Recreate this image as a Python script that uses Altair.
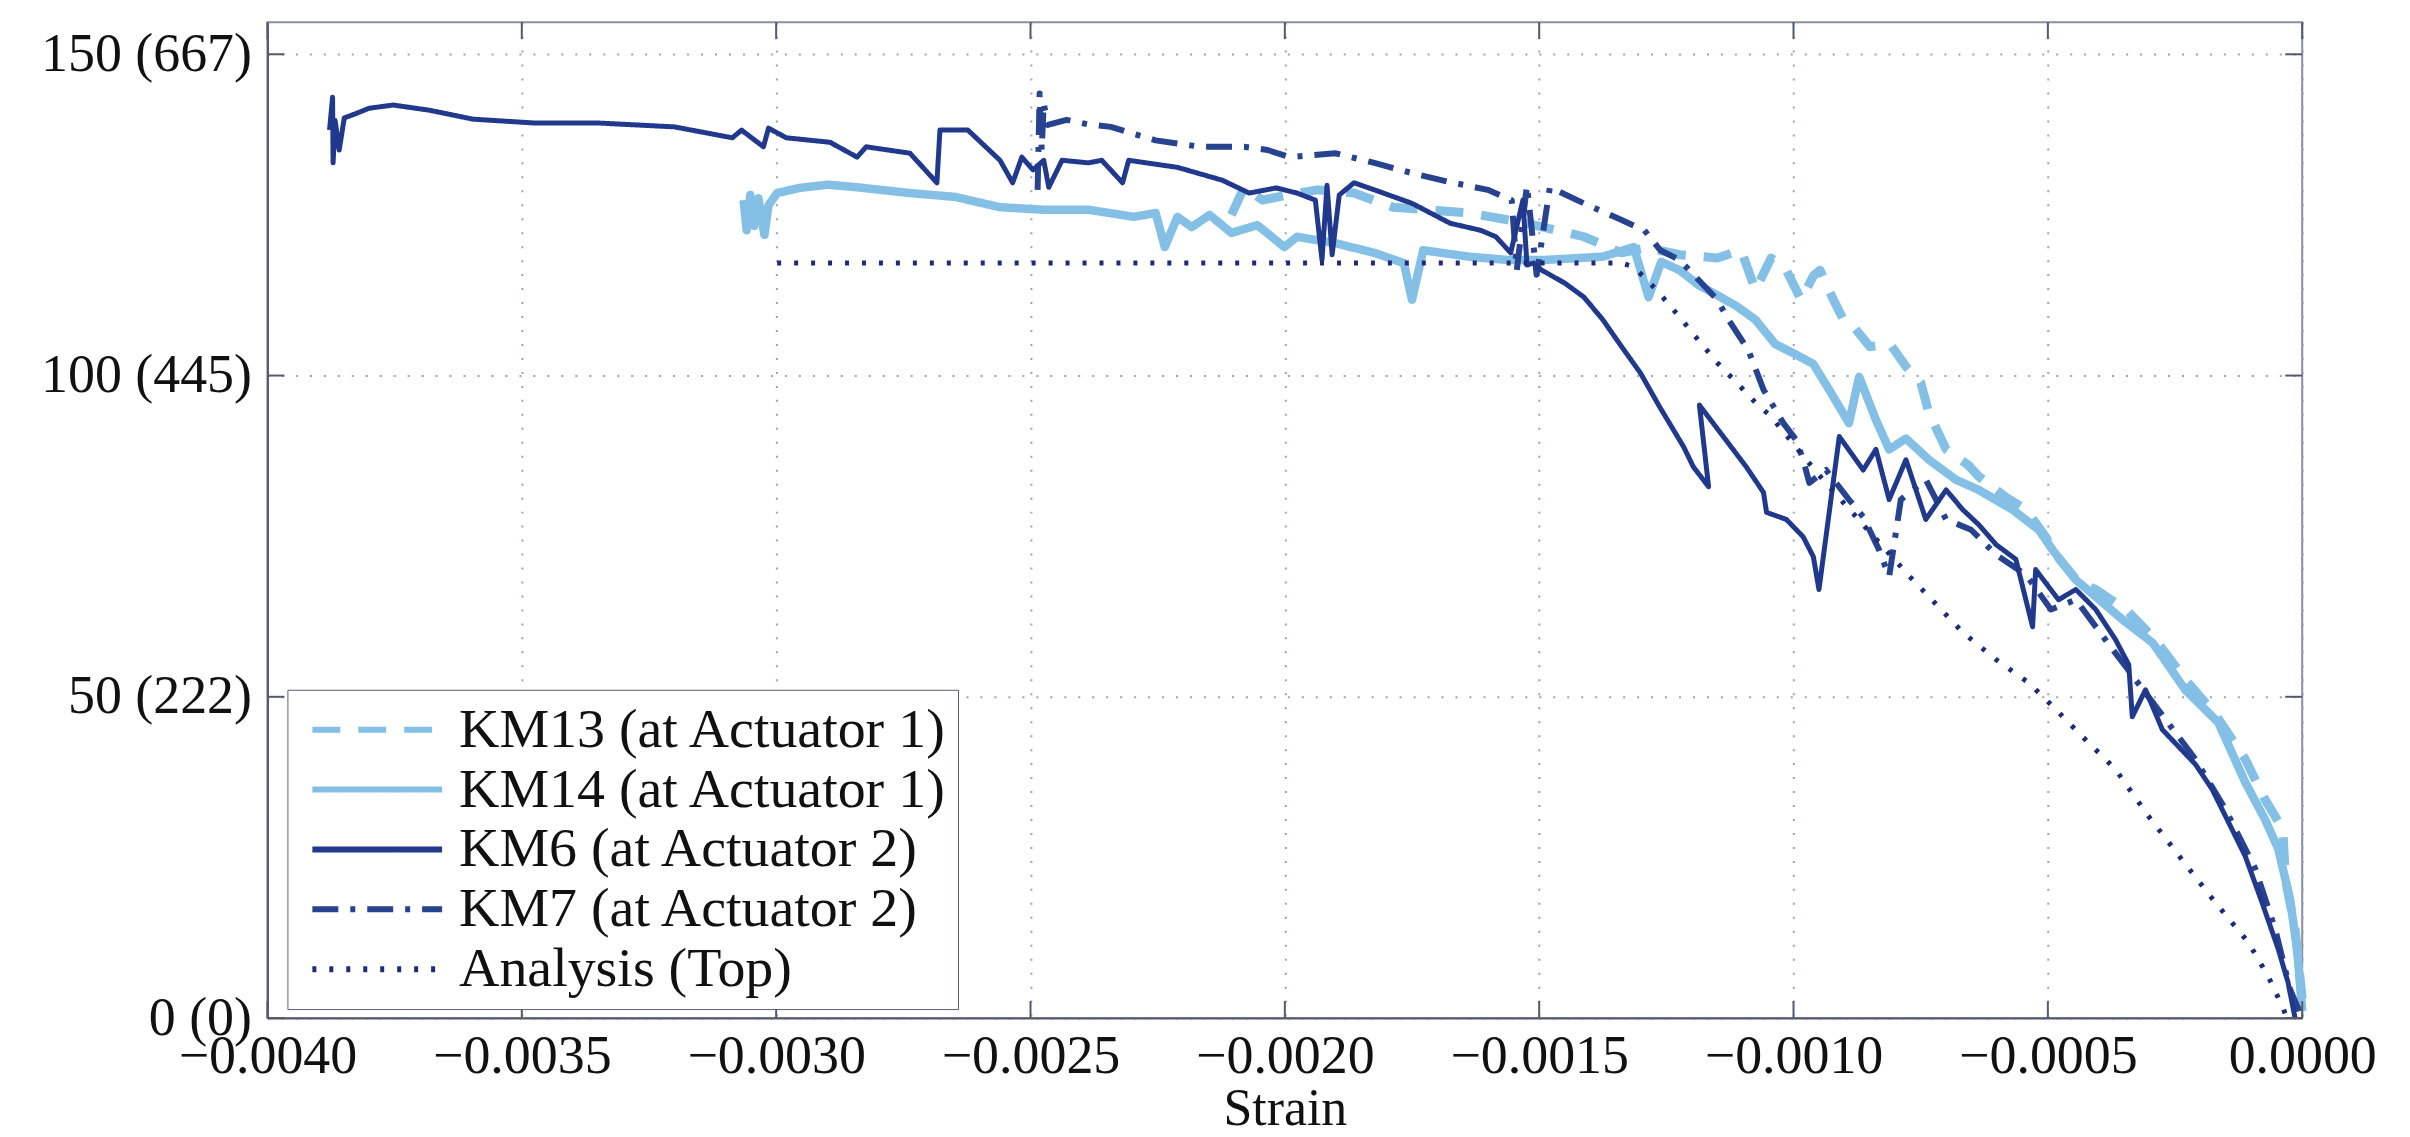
import altair as alt
import pandas as pd

# ---------------- data (strain, load in kips) ----------------
series_names = ["KM13 (at Actuator 1)", "KM14 (at Actuator 1)", "KM6 (at Actuator 2)",
                "KM7 (at Actuator 2)", "Analysis (Top)"]
series_colors = ["#84bfe6", "#84bfe6", "#21398c", "#27428f", "#1c2c78"]
series_dash = [[28, 18], [1, 0], [1, 0], [26, 12, 5, 12], [4, 13]]
series_width = [9, 8.5, 5, 6, 5]

km14_strain = [-0.003064, -0.003058, -0.003051, -0.003043, -0.003035, -0.003023, -0.003015, -0.002998,
               -0.002954, -0.002898, -0.002841, -0.002737, -0.002648, -0.002560, -0.002474, -0.002386,
               -0.002297, -0.002254, -0.002236, -0.002211, -0.002183, -0.002148, -0.002105, -0.002054,
               -0.002001, -0.001976, -0.001901, -0.001824, -0.001766, -0.001750, -0.001728, -0.001638,
               -0.001564, -0.001487, -0.001375, -0.001314, -0.001285, -0.001260, -0.001224, -0.001187,
               -0.001150, -0.001112, -0.001075, -0.001036, -0.001001, -0.000961, -0.000930, -0.000891,
               -0.000871, -0.000838, -0.000812, -0.000779, -0.000734, -0.000681, -0.000636, -0.000569,
               -0.000518, -0.000491, -0.000445, -0.000406, -0.000353, -0.000294, -0.000230, -0.000165,
               -0.000112, -0.000073, -0.000047, -0.000024, -0.000010, 0.000000]
km14_load = [127.3, 122.6, 128.1, 123.3, 127.6, 121.9, 126.5, 128.4,
             129.2, 129.7, 129.3, 128.4, 127.8, 126.2, 125.8, 125.8,
             124.7, 125.3, 120.0, 124.7, 123.1, 125.0, 122.2, 123.4,
             120.0, 121.6, 120.6, 119.1, 117.5, 111.8, 119.5, 118.5,
             118.0, 118.0, 118.5, 120.0, 112.2, 117.7, 116.4, 114.1,
             112.5, 110.8, 108.7, 104.9, 103.5, 101.8, 97.8, 92.6,
             99.8, 93.1, 88.5, 90.2, 86.9, 83.8, 82.2, 79.1,
             76.0, 72.9, 68.2, 65.6, 62.0, 58.4, 51.1, 46.0,
             36.7, 30.9, 26.3, 18.5, 10.7, 1.1]

km13_strain = [-0.002105, -0.002080, -0.002044, -0.001995, -0.001936, -0.001864, -0.001787, -0.001720,
               -0.001638, -0.001524, -0.001412, -0.001338, -0.001289, -0.001224, -0.001150, -0.001103,
               -0.001075, -0.001044, -0.001014, -0.000985, -0.000961, -0.000948, -0.000924, -0.000902,
               -0.000885, -0.000850, -0.000810, -0.000779, -0.000750, -0.000734, -0.000700, -0.000657,
               -0.000636, -0.000583, -0.000543, -0.000506, -0.000477, -0.000440, -0.000406, -0.000347,
               -0.000289, -0.000230, -0.000171, -0.000112, -0.000073, -0.000038, -0.000033, -0.000014,
               0.000000]
km13_load = [125.0, 129.3, 127.3, 128.1, 128.9, 128.4, 126.2, 125.8,
             125.3, 123.7, 121.6, 119.1, 119.9, 118.8, 118.3, 119.5,
             113.3, 118.3, 116.4, 111.8, 115.5, 116.4, 112.2, 108.7,
             107.9, 104.5, 104.9, 101.4, 98.9, 94.2, 88.5, 86.1,
             84.3, 81.1, 79.1, 75.1, 71.4, 67.8, 66.7, 63.6,
             58.9, 52.7, 47.3, 40.3, 34.0, 29.4, 21.6, 13.8,
             3.0]

km7_strain = [-0.002486, -0.002482, -0.002478, -0.002474, -0.002466, -0.002429, -0.002388, -0.002342,
              -0.002254, -0.002166, -0.002080, -0.002034, -0.001991, -0.001901, -0.001824, -0.001750,
              -0.001675, -0.001601, -0.001554, -0.001544, -0.001524, -0.001505, -0.001479, -0.001412,
              -0.001338, -0.001293, -0.001262, -0.001224, -0.001187, -0.001150, -0.001128, -0.001089,
              -0.001059, -0.001020, -0.000995, -0.000981, -0.000969, -0.000936, -0.000891, -0.000863,
              -0.000832, -0.000812, -0.000789, -0.000740, -0.000700, -0.000651, -0.000602, -0.000543,
              -0.000494, -0.000445, -0.000387, -0.000328, -0.000269, -0.000210, -0.000151, -0.000092,
              -0.000053, -0.000024, 0.000000]
km7_load = [128.9, 143.9, 135.1, 142.4, 139.0, 139.8, 139.1, 138.7,
            136.6, 135.6, 135.6, 135.1, 134.0, 134.6, 133.1, 131.5,
            130.1, 128.9, 127.3, 116.4, 129.6, 115.7, 129.3, 126.8,
            124.2, 122.6, 119.5, 118.0, 114.9, 111.8, 108.7, 104.0,
            97.8, 92.6, 90.0, 86.9, 83.3, 85.3, 80.7, 78.0,
            72.9, 68.7, 80.7, 83.8, 77.6, 76.0, 72.1, 69.0,
            63.6, 65.1, 58.9, 52.7, 46.5, 40.3, 32.5, 23.2,
            13.8, 4.5, 0.0]

km6_strain = [-0.003878, -0.003872, -0.003871, -0.003867, -0.003859, -0.003849, -0.003835, -0.003800,
              -0.003753, -0.003682, -0.003596, -0.003474, -0.003349, -0.003200, -0.003086, -0.003068,
              -0.003025, -0.003015, -0.002980, -0.002894, -0.002841, -0.002823, -0.002737, -0.002684,
              -0.002678, -0.002623, -0.002560, -0.002535, -0.002517, -0.002495, -0.002474, -0.002464,
              -0.002438, -0.002386, -0.002360, -0.002319, -0.002307, -0.002211, -0.002123, -0.002070,
              -0.002017, -0.001976, -0.001940, -0.001927, -0.001917, -0.001907, -0.001893, -0.001864,
              -0.001824, -0.001750, -0.001675, -0.001615, -0.001585, -0.001556, -0.001532, -0.001524,
              -0.001511, -0.001495, -0.001450, -0.001412, -0.001375, -0.001338, -0.001301, -0.001263,
              -0.001216, -0.001197, -0.001167, -0.001185, -0.001138, -0.001093, -0.001059, -0.001053,
              -0.001014, -0.000981, -0.000961, -0.000950, -0.000910, -0.000863, -0.000838, -0.000812,
              -0.000779, -0.000740, -0.000700, -0.000667, -0.000636, -0.000602, -0.000563, -0.000530,
              -0.000524, -0.000479, -0.000445, -0.000406, -0.000367, -0.000341, -0.000334, -0.000308,
              -0.000275, -0.000210, -0.000177, -0.000145, -0.000112, -0.000079, -0.000047, -0.000028,
              -0.000014]
km6_load = [138.2, 143.3, 133.1, 139.7, 135.1, 140.1, 140.5, 141.6,
            142.1, 141.3, 139.9, 139.3, 139.3, 138.7, 137.0, 138.2,
            135.6, 138.5, 137.0, 136.3, 134.0, 135.6, 134.6, 130.0,
            138.2, 138.2, 133.5, 130.0, 134.0, 132.0, 133.5, 129.3,
            133.5, 133.1, 133.5, 130.0, 133.5, 132.4, 130.4, 128.4,
            129.2, 128.4, 127.3, 118.0, 129.6, 118.8, 128.1, 130.0,
            128.9, 126.8, 123.7, 122.6, 121.6, 119.1, 127.3, 117.2,
            117.5, 116.4, 114.4, 112.2, 108.7, 104.5, 100.4, 95.1,
            88.9, 85.8, 82.7, 95.4, 90.5, 85.8, 81.8, 78.7,
            77.6, 74.9, 71.8, 66.7, 90.5, 85.3, 88.5, 80.7,
            86.9, 77.6, 82.2, 79.1, 76.8, 73.7, 71.4, 60.9,
            69.8, 65.1, 66.7, 63.6, 58.9, 55.0, 46.9, 51.1,
            44.9, 39.5, 35.6, 30.5, 25.2, 18.0, 10.7, 5.6,
            0.0]

analysis_strain = [-0.002998, -0.001338, -0.001314, -0.001269, -0.001224, -0.001187, -0.001150, -0.001112,
                   -0.001075, -0.001044, -0.000950, -0.000860, -0.000769, -0.000734, -0.000667, -0.000602,
                   -0.000538, -0.000498, -0.000432, -0.000367, -0.000302, -0.000235, -0.000171, -0.000106,
                   -0.000067, -0.000039, -0.000030]
analysis_load = [117.5, 117.5, 116.9, 113.3, 109.1, 105.5, 102.0, 98.9,
                 95.8, 93.6, 84.5, 76.5, 68.5, 65.6, 60.0, 55.8,
                 52.2, 49.1, 43.8, 38.7, 31.4, 24.5, 18.0, 11.8,
                 6.5, 1.8, 0.0]

x_ticks = [-0.004, -0.0035, -0.003, -0.0025, -0.002, -0.0015, -0.001, -0.0005, 0.0]
y_ticks = [0, 50, 100, 150]
y_tick_labels = ["0 (0)", "50 (222)", "100 (445)", "150 (667)"]

# ---------------- build long table (draw order: light first, analysis last) ----------------
draw_order = [
    ("KM14 (at Actuator 1)", km14_strain, km14_load),
    ("KM13 (at Actuator 1)", km13_strain, km13_load),
    ("KM7 (at Actuator 2)", km7_strain, km7_load),
    ("KM6 (at Actuator 2)", km6_strain, km6_load),
    ("Analysis (Top)", analysis_strain, analysis_load),
]
rows = []
for name, xs, ys in draw_order:
    w = series_width[series_names.index(name)]
    for i, (sx, sy) in enumerate(zip(xs, ys)):
        rows.append({"series": name, "strain": sx, "load": sy, "idx": i, "w": w})
df = pd.DataFrame(rows)

xt_df = pd.DataFrame({"strain": x_ticks})
yt_df = pd.DataFrame({"load": y_ticks})

label_expr = " : ".join(
    f"datum.value == {v} ? '{t}'" for v, t in zip(y_ticks, y_tick_labels)
) + " : ''"

FONT = "Liberation Serif"
W, H = 2039, 998
TICK = 17
AXC = "#555a6a"

x_scale = alt.Scale(domain=[-0.004, 0.0], nice=False, zero=False)
y_scale = alt.Scale(domain=[0, 155], nice=False)
x_axis = alt.Axis(values=x_ticks, format=".4f", title="Strain", labelFlush=False, labelOverlap=False)
y_axis = alt.Axis(values=y_ticks, labelExpr=label_expr, title=None, labelLimit=500)

legend = alt.Legend(orient="none", legendX=20, legendY=669, title=None,
                    symbolType="stroke", symbolSize=16900, clipHeight=60,
                    symbolStrokeWidth=6, symbolOffset=12, labelOffset=14,
                    labelFont=FONT, labelFontSize=56, labelColor="#111111",
                    labelLimit=1000, padding=10, rowPadding=0,
                    strokeColor="#5a5e6e", fillColor="white")

lines = alt.Chart(df).mark_line(strokeJoin="round").encode(
    x=alt.X("strain:Q", scale=x_scale, axis=x_axis),
    y=alt.Y("load:Q", scale=y_scale, axis=y_axis),
    color=alt.Color("series:N", scale=alt.Scale(domain=series_names, range=series_colors), legend=legend),
    strokeDash=alt.StrokeDash("series:N", scale=alt.Scale(domain=series_names, range=series_dash), legend=legend),
    strokeWidth=alt.StrokeWidth("w:Q", scale=None, legend=None),
    order=alt.Order("idx:Q"),
)

# inward tick marks on all four sides (MATLAB-style box)
xt_top = alt.Chart(xt_df).mark_rule(color=AXC, strokeWidth=2).encode(
    x=alt.X("strain:Q", scale=x_scale, axis=x_axis), y=alt.value(0), y2=alt.value(TICK))
xt_bot = alt.Chart(xt_df).mark_rule(color=AXC, strokeWidth=2).encode(
    x=alt.X("strain:Q", scale=x_scale, axis=x_axis), y=alt.value(H), y2=alt.value(H - TICK))
yt_left = alt.Chart(yt_df).mark_rule(color=AXC, strokeWidth=2).encode(
    y=alt.Y("load:Q", scale=y_scale, axis=y_axis), x=alt.value(0), x2=alt.value(TICK))
yt_right = alt.Chart(yt_df).mark_rule(color=AXC, strokeWidth=2).encode(
    y=alt.Y("load:Q", scale=y_scale, axis=y_axis), x=alt.value(W), x2=alt.value(W - TICK))

chart = alt.layer(lines, xt_top, xt_bot, yt_left, yt_right).properties(
    width=W, height=H,
    autosize=alt.AutoSizeParams(type="none"),
    padding={"left": 260, "top": 13, "right": 100, "bottom": 118},
    background="white",
).configure_view(
    stroke="#8a8fa0", strokeWidth=2
).configure_axis(
    labelFont=FONT, labelFontSize=54, labelColor="#111111",
    titleFont=FONT, titleFontSize=52, titleFontWeight="normal", titleColor="#111111",
    domainColor=AXC, domainWidth=2, ticks=False,
    grid=True, gridColor="#99a2bf", gridDash=[2, 12], gridWidth=2, gridOpacity=1,
).configure_axisX(
    labelPadding=12, titlePadding=0
).configure_axisY(
    labelPadding=16
).configure_legend(
    labelFont=FONT
)

chart.save("out.html", embed_options={"renderer": "svg", "actions": False})
